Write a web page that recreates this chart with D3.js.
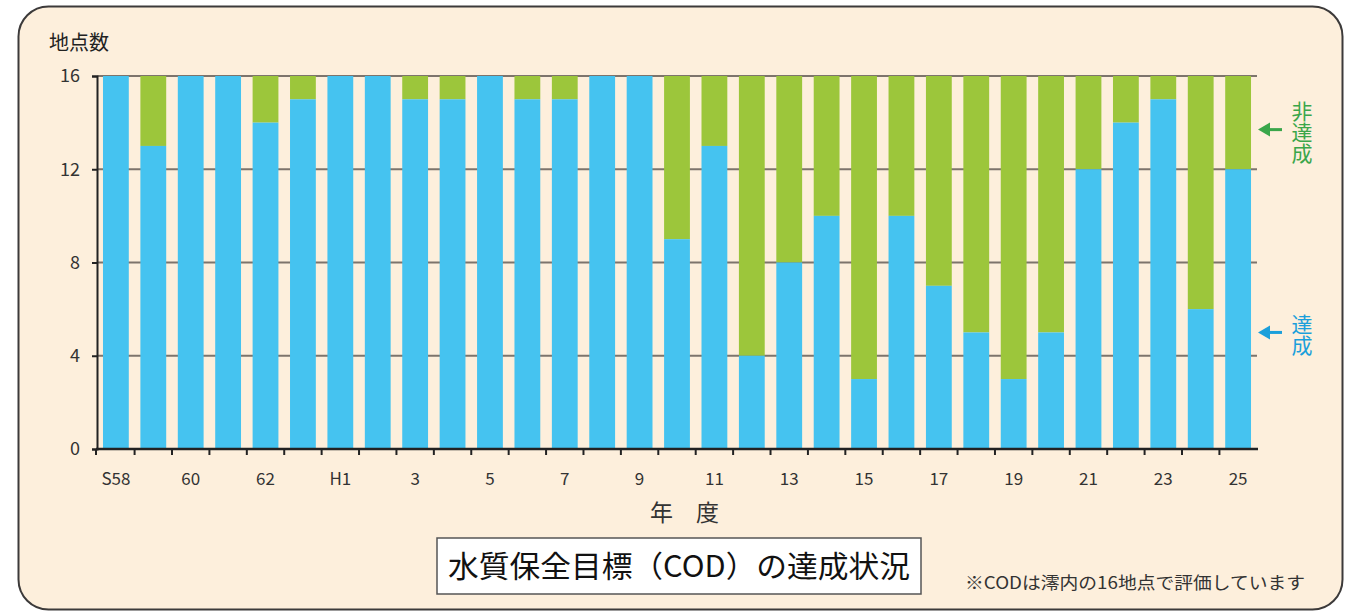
<!DOCTYPE html>
<html>
<head>
<meta charset="utf-8">
<script src="https://cdn.jsdelivr.net/npm/d3@7"></script>
<style>
  body { margin: 0; background: #fff; }
  svg text { font-family: "Noto Sans CJK JP", "Noto Sans", sans-serif; }
</style>
</head>
<body>
<div class="chart"></div>
<script>
// 年度 (S58 .. H25)
var years = ['S58','59','60','61','62','63','H1','2','3','4','5','6','7','8','9','10',
  '11','12','13','14','15','16','17','18','19','20','21','22','23','24','25']
// 達成 地点数
var achieved = [16,13,16,16,14,15,16,16,15,15,16,15,15,16,16,9,
  13,4,8,10,3,10,7,5,3,5,12,14,15,6,12]
var total = 16
var yTicks = [0, 4, 8, 12, 16]
var labelYears = ['S58','60','62','H1','3','5','7','9','11','13','15','17','19','21','23','25']

var width = 1354
var height = 612
var blue = '#45c3f0'
var green = '#9cc63b'

var svg = d3.select('.chart')
  .append('svg')
  .attr('width', width)
  .attr('height', height)

// panel
svg.append('rect')
  .attr('x', 18.5)
  .attr('y', 6.5)
  .attr('width', 1324)
  .attr('height', 603)
  .attr('rx', 30)
  .attr('fill', '#fdefdc')
  .attr('stroke', '#3c3a3a')
  .attr('stroke-width', 2)

var x = d3.scaleBand()
  .domain(years)
  .range([97, 1257])
  .paddingInner(0.31)
  .paddingOuter(0.16)

var y = d3.scaleLinear()
  .domain([0, total])
  .range([449, 76])

// grid lines
svg.append('g')
  .selectAll('line')
  .data(yTicks.filter(function (d) { return d > 0 }))
  .enter()
  .append('line')
  .attr('x1', 97)
  .attr('x2', 1257)
  .attr('y1', function (d) { return y(d) })
  .attr('y2', function (d) { return y(d) })
  .attr('stroke', '#7d746c')
  .attr('stroke-width', 2)

var data = years.map(function (yr, i) {
  return { year: yr, ok: achieved[i], ng: total - achieved[i] }
})

var bars = svg.append('g')

bars.selectAll('rect.ng')
  .data(data)
  .enter()
  .append('rect')
  .attr('class', 'ng')
  .attr('x', function (d) { return x(d.year) })
  .attr('width', x.bandwidth())
  .attr('y', y(total))
  .attr('height', function (d) { return y(d.ok) - y(total) })
  .attr('fill', green)

bars.selectAll('rect.ok')
  .data(data)
  .enter()
  .append('rect')
  .attr('class', 'ok')
  .attr('x', function (d) { return x(d.year) })
  .attr('width', x.bandwidth())
  .attr('y', function (d) { return y(d.ok) })
  .attr('height', function (d) { return y(0) - y(d.ok) })
  .attr('fill', blue)

// y axis
var yAxis = d3.axisLeft(y)
  .tickValues(yTicks)
  .tickSize(5)
  .tickPadding(8)

var gy = svg.append('g')
  .attr('transform', 'translate(97,0)')
  .call(yAxis)
gy.select('.domain').attr('stroke', '#222').attr('stroke-width', 2)
gy.selectAll('.tick line').attr('stroke', '#222').attr('stroke-width', 2)
gy.selectAll('.tick text')
  .attr('font-size', 18)
  .attr('fill', '#333')
  .attr('dx', -4)

// x axis: ticks between bars
var step = x.step()
var bounds = d3.range(1, years.length).map(function (i) {
  return x(years[i]) - (step - x.bandwidth()) / 2
})
svg.append('line')
  .attr('x1', 96)
  .attr('x2', 1258)
  .attr('y1', y(0))
  .attr('y2', y(0))
  .attr('stroke', '#222')
  .attr('stroke-width', 2.5)
svg.append('g')
  .selectAll('line')
  .data([96].concat(bounds))
  .enter()
  .append('line')
  .attr('x1', function (d) { return d })
  .attr('x2', function (d) { return d })
  .attr('y1', y(0))
  .attr('y2', y(0) + 6)
  .attr('stroke', '#222')
  .attr('stroke-width', 2)

svg.append('g')
  .selectAll('text')
  .data(labelYears)
  .enter()
  .append('text')
  .attr('x', function (d) { return x(d) + x.bandwidth() / 2 })
  .attr('y', 485)
  .attr('text-anchor', 'middle')
  .attr('font-size', 17)
  .attr('fill', '#333')
  .text(function (d) { return d })

// axis titles
svg.append('text')
  .attr('x', 49)
  .attr('y', 50)
  .attr('font-size', 20)
  .attr('fill', '#222')
  .text('地点数')

svg.append('text')
  .attr('x', 650)
  .attr('y', 521)
  .attr('font-size', 23)
  .attr('fill', '#333')
  .attr('letter-spacing', 23)
  .text('年度')

// legend arrows with vertical labels
function legend(label, cy, color) {
  var g = svg.append('g')
  g.append('line')
    .attr('x1', 1282).attr('x2', 1266)
    .attr('y1', cy).attr('y2', cy)
    .attr('stroke', color).attr('stroke-width', 3)
  g.append('path')
    .attr('d', 'M1258,' + cy + 'L1270,' + (cy - 7) + 'L1270,' + (cy + 7) + 'Z')
    .attr('fill', color)
  g.append('text')
    .attr('x', 1302)
    .attr('y', cy + 2)
    .attr('writing-mode', 'vertical-rl')
    .attr('text-anchor', 'middle')
    .attr('font-size', 21)
    .attr('fill', color)
    .text(label)
}
legend('非達成', y(13.7), '#3aa64a')
legend('達成', y(5), '#1b9fdb')

// title box
svg.append('rect')
  .attr('x', 437)
  .attr('y', 538)
  .attr('width', 484)
  .attr('height', 56)
  .attr('fill', '#fff')
  .attr('stroke', '#555')
  .attr('stroke-width', 1.5)
svg.append('text')
  .attr('x', 679)
  .attr('y', 577)
  .attr('text-anchor', 'middle')
  .attr('font-size', 30)
  .attr('fill', '#111')
  .attr('textLength', 462)
  .attr('lengthAdjust', 'spacingAndGlyphs')
  .text('水質保全目標（COD）の達成状況')

svg.append('text')
  .attr('x', 965)
  .attr('y', 589)
  .attr('font-size', 17)
  .attr('fill', '#333')
  .attr('textLength', 340)
  .attr('lengthAdjust', 'spacingAndGlyphs')
  .text('※CODは澪内の16地点で評価しています')
</script>
</body>
</html>
